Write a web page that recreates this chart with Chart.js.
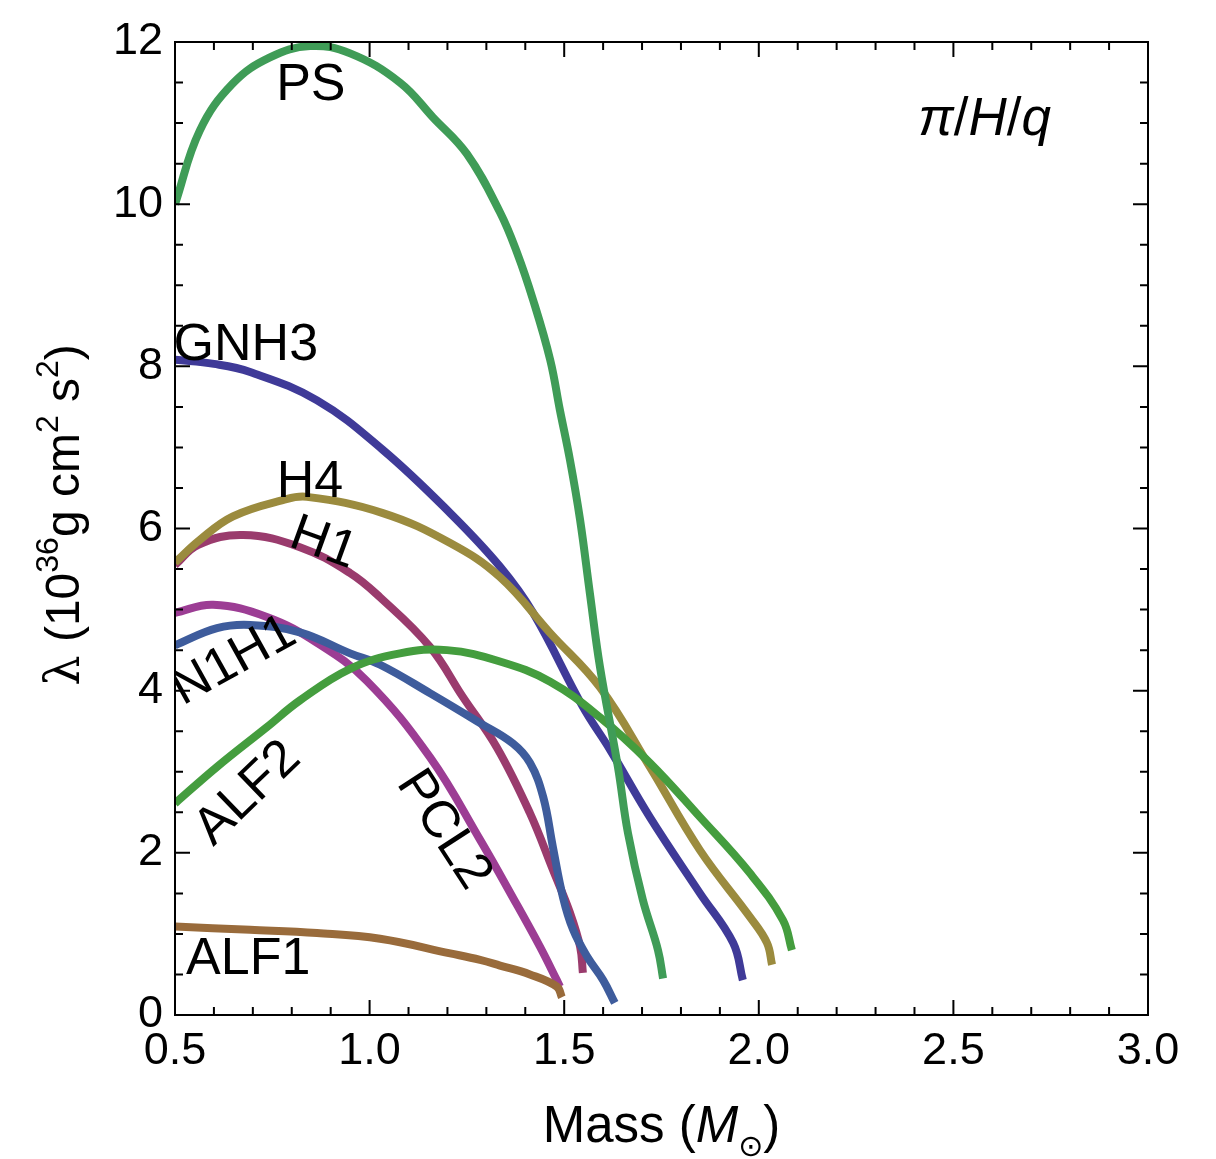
<!DOCTYPE html>
<html>
<head>
<meta charset="utf-8">
<script src="https://cdn.jsdelivr.net/npm/chart.js@4.4.0/dist/chart.umd.min.js"></script>
<style>
  html, body { margin: 0; background: #fff; }
  canvas { display: block; }
</style>
</head>
<body>
<canvas id="chart" width="1216" height="1159"></canvas>
<script>
// tick labels
const xTicks = [0.5, 1.0, 1.5, 2.0, 2.5, 3.0];
const yTicks = [0, 2, 4, 6, 8, 10, 12];

// curves: mass (Msun) and lambda (1e36 g cm^2 s^2)
const psMass = [0.50, 0.564, 0.649, 0.744, 0.847, 0.95, 1.078, 1.163, 1.25, 1.335, 1.379, 1.42, 1.464, 1.489, 1.515, 1.541, 1.566, 1.592, 1.638, 1.664, 1.702, 1.741, 1.754];
const psLam  = [10.0, 10.91, 11.49, 11.81, 11.95, 11.86, 11.50, 11.07, 10.62, 9.90, 9.40, 8.82, 8.08, 7.46, 6.84, 6.10, 5.20, 4.29, 3.06, 2.24, 1.42, 0.80, 0.45];

const gnh3Mass = [0.50, 0.60, 0.693, 0.865, 1.034, 1.207, 1.335, 1.42, 1.548, 1.618, 1.72, 1.849, 1.934, 1.959];
const gnh3Lam  = [8.08, 8.03, 7.93, 7.58, 6.97, 6.19, 5.53, 4.96, 3.80, 3.27, 2.44, 1.50, 0.89, 0.43];

const h4Mass = [0.50, 0.564, 0.649, 0.777, 0.839, 1.034, 1.207, 1.335, 1.464, 1.592, 1.72, 1.849, 1.977, 2.021, 2.034];
const h4Lam  = [5.58, 5.86, 6.15, 6.35, 6.39, 6.19, 5.82, 5.40, 4.71, 4.04, 3.06, 2.03, 1.21, 0.89, 0.62];

const h1Mass = [0.50, 0.56, 0.675, 0.821, 0.95, 1.027, 1.155, 1.24, 1.327, 1.412, 1.471, 1.515, 1.541, 1.548];
const h1Lam  = [5.55, 5.80, 5.92, 5.77, 5.45, 5.15, 4.54, 3.92, 3.30, 2.49, 1.79, 1.26, 0.84, 0.52];

const pcl2Mass = [0.50, 0.598, 0.736, 0.865, 0.993, 1.155, 1.284, 1.368, 1.438, 1.481, 1.489];
const pcl2Lam  = [4.96, 5.06, 4.91, 4.59, 4.12, 3.18, 2.16, 1.45, 0.84, 0.43, 0.35];

const n1h1Mass = [0.50, 0.608, 0.693, 0.821, 0.95, 1.027, 1.155, 1.284, 1.368, 1.412, 1.446, 1.471, 1.497, 1.523, 1.559, 1.60, 1.63];
const n1h1Lam  = [4.56, 4.77, 4.81, 4.72, 4.46, 4.32, 3.97, 3.60, 3.35, 3.11, 2.69, 2.07, 1.45, 1.05, 0.72, 0.43, 0.15];

const alf2Mass = [0.50, 0.608, 0.736, 0.821, 0.95, 1.078, 1.199, 1.335, 1.464, 1.592, 1.72, 1.849, 1.977, 2.062, 2.085];
const alf2Lam  = [2.61, 3.06, 3.55, 3.88, 4.27, 4.46, 4.50, 4.36, 4.11, 3.67, 3.11, 2.44, 1.75, 1.17, 0.80];

const alf1Mass = [0.50, 0.693, 0.865, 1.027, 1.207, 1.284, 1.335, 1.412, 1.481, 1.494];
const alf1Lam  = [1.09, 1.05, 1.01, 0.94, 0.76, 0.68, 0.61, 0.50, 0.35, 0.22];

// curve labels: text, mass, lambda at label centre, angle (deg)
const curveLabels = [
  ['PS', 0.849, 11.51, 0],
  ['GNH3', 0.682, 8.31, 0],
  ['H4', 0.847, 6.62, 0],
  ['H1', 0.885, 5.86, 20],
  ['N1H1', 0.646, 4.41, -29],
  ['ALF2', 0.680, 2.77, -44],
  ['PCL2', 1.199, 2.31, 57],
  ['ALF1', 0.688, 0.73, 0]
];

const SANS = '"Liberation Sans", Arial, Helvetica, sans-serif';

// first dataset is drawn on top
const series = [
  ['PS', psMass, psLam, '#3f9c57'],
  ['ALF2', alf2Mass, alf2Lam, '#449d3e'],
  ['H4', h4Mass, h4Lam, '#9b8b3e'],
  ['GNH3', gnh3Mass, gnh3Lam, '#3f3a98'],
  ['ALF1', alf1Mass, alf1Lam, '#996b3b'],
  ['N1H1', n1h1Mass, n1h1Lam, '#3e5c9c'],
  ['PCL2', pcl2Mass, pcl2Lam, '#9c3d94'],
  ['H1', h1Mass, h1Lam, '#9a3b6d']
];

const datasets = series.map(([name, m, l, color]) => ({
  label: name,
  data: m.map((v, i) => ({ x: v, y: l[i] })),
  borderColor: color,
  borderWidth: 8,
  borderCapStyle: 'butt',
  pointRadius: 0,
  fill: false,
  tension: 0.4
}));

/* frame with inward ticks on all four sides */
const framePlugin = {
  id: 'frame',
  afterDatasetsDraw(chart) {
    const { ctx, chartArea: a, scales: { x, y } } = chart;
    ctx.save();
    ctx.strokeStyle = '#000';
    ctx.lineWidth = 2;
    ctx.strokeRect(a.left, a.top, a.right - a.left, a.bottom - a.top);
    ctx.beginPath();
    for (let k = 0; k <= 25; k++) {
      const v = 0.5 + k * 0.1;
      const px = x.getPixelForValue(v);
      const len = k % 5 === 0 ? 15 : 8;
      ctx.moveTo(px, a.bottom); ctx.lineTo(px, a.bottom - len);
      ctx.moveTo(px, a.top); ctx.lineTo(px, a.top + len);
    }
    for (let k = 0; k <= 24; k++) {
      const v = k * 0.5;
      const py = y.getPixelForValue(v);
      const len = k % 4 === 0 ? 15 : 8;
      ctx.moveTo(a.left, py); ctx.lineTo(a.left + len, py);
      ctx.moveTo(a.right, py); ctx.lineTo(a.right - len, py);
    }
    ctx.stroke();
    ctx.restore();
  }
};

function drawRich(ctx, parts, cx, cy) {
  // parts: [text, font, dy]
  let total = 0;
  parts.forEach(p => { ctx.font = p[1]; total += ctx.measureText(p[0]).width; });
  let xx = cx - total / 2;
  parts.forEach(p => {
    ctx.font = p[1];
    ctx.fillText(p[0], xx, cy + p[2]);
    xx += ctx.measureText(p[0]).width;
  });
}

/* labels, axis titles */
const textPlugin = {
  id: 'texts',
  afterDraw(chart) {
    const { ctx, chartArea: a, scales: { x, y } } = chart;
    ctx.save();
    ctx.fillStyle = '#000';
    ctx.textBaseline = 'alphabetic';

    // curve labels, clipped to plot area
    ctx.save();
    ctx.beginPath();
    ctx.rect(a.left + 1, a.top, a.right - a.left, a.bottom - a.top);
    ctx.clip();
    ctx.font = '52px ' + SANS;
    ctx.textAlign = 'center';
    curveLabels.forEach(([t, m, l, ang]) => {
      ctx.save();
      ctx.translate(x.getPixelForValue(m), y.getPixelForValue(l));
      ctx.rotate(ang * Math.PI / 180);
      ctx.fillText(t, 0, 18.5);
      ctx.restore();
    });
    ctx.restore();

    ctx.textAlign = 'left';
    // model tag
    const it = 'italic 53px ' + SANS, up = '53px ' + SANS;
    drawRich(ctx, [['π', it, 0], ['/', up, 0], ['H', it, 0], ['/', up, 0], ['q', it, 0]],
      x.getPixelForValue(2.58), y.getPixelForValue(11.08) + 18.5);

    // x title
    drawRich(ctx, [
      ['Mass (', '51px ' + SANS, 0],
      ['M', 'italic 51px ' + SANS, 0],
      ['\u2299', '30px "DejaVu Sans"', 14],
      [')', '51px ' + SANS, 0]
    ], (a.left + a.right) / 2, 1142);

    // y title
    ctx.save();
    ctx.translate(79, 515);
    ctx.rotate(-Math.PI / 2);
    const f = '48px ' + SANS, s = '32px ' + SANS;
    drawRich(ctx, [
      ['λ', '48px "DejaVu Serif", serif', 0],
      [' (10', f, 0],
      ['36', s, -21],
      ['g cm', f, 0],
      ['2', s, -21],
      [' s', f, 0],
      ['2', s, -21],
      [')', f, 0]
    ], 0, 0);
    ctx.restore();

    ctx.restore();
  }
};

const tickFont = { family: SANS, size: 45 };

new Chart(document.getElementById('chart').getContext('2d'), {
  type: 'line',
  data: { datasets },
  options: {
    responsive: false,
    animation: false,
    layout: { padding: { top: 42, right: 68, left: 0, bottom: 0 } },
    plugins: { legend: { display: false }, tooltip: { enabled: false } },
    scales: {
      x: {
        type: 'linear', min: 0.5, max: 3.0,
        afterBuildTicks: s => { s.ticks = xTicks.map(v => ({ value: v })); },
        afterFit: s => { s.height = 144; },
        ticks: { font: tickFont, color: '#000', padding: 10, maxRotation: 0, autoSkip: false,
          callback: v => v.toFixed(1) },
        grid: { display: false, drawTicks: false },
        border: { display: false }
      },
      y: {
        type: 'linear', min: 0, max: 12,
        afterBuildTicks: s => { s.ticks = yTicks.map(v => ({ value: v })); },
        afterFit: s => { s.width = 175; },
        ticks: { font: tickFont, color: '#000', padding: 12, autoSkip: false,
          callback: v => String(v) },
        grid: { display: false, drawTicks: false },
        border: { display: false }
      }
    }
  },
  plugins: [framePlugin, textPlugin]
});
</script>
</body>
</html>
